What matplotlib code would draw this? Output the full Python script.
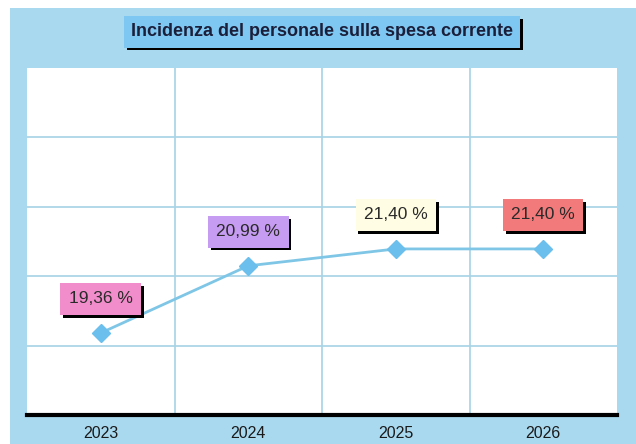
import matplotlib.pyplot as plt
import matplotlib.patheffects as pe
from matplotlib.patches import Rectangle
import numpy as np

plt.rcParams['font.family'] = ['Liberation Sans', 'DejaVu Sans']

years = ['2023', '2024', '2025', '2026']
values = [19.36, 20.99, 21.40, 21.40]
labels = ['19,36 %', '20,99 %', '21,40 %', '21,40 %']
label_colors = ['#f28dcb', '#c69cf2', '#fffde3', '#f37a7a']
title = 'Incidenza del personale sulla spesa corrente'

W, H = 636, 444
fig = plt.figure(figsize=(W / 100, H / 100), dpi=100, facecolor='white')
# light blue panel behind everything
fig.patches.append(Rectangle((10 / W, 0), 1 - 10 / W, 1 - 8 / H,
                             transform=fig.transFigure, facecolor='#a9d9ef',
                             edgecolor='none', zorder=-5))

ax = fig.add_axes([27 / W, (H - 415) / H, 590 / W, (415 - 68) / H])
ax.set_facecolor('white')

x = np.arange(len(years))
ax.set_xlim(-0.5, len(years) - 0.5)
ax.set_ylim(17.37, 25.79)

# grid
for xv in x[:-1] + 0.5:
    ax.axvline(xv, color='#a6d3e6', lw=1.2, zorder=1)
for yv in np.linspace(17.37, 25.79, 6)[1:-1]:
    ax.axhline(yv, color='#a6d3e6', lw=1.2, zorder=1)

ax.plot(x, values, color='#7fc6e6', lw=2, marker='D', markersize=9,
        markerfacecolor='#6bbfec', markeredgecolor='#6bbfec', zorder=3)

for xi, v, lab, col in zip(x, values, labels, label_colors):
    t = ax.annotate(lab, (xi, v), xytext=(0, 34),
                    textcoords='offset pixels', ha='center', va='center',
                    fontsize=12.5, color='#2a2a2a', zorder=5,
                    bbox=dict(boxstyle='square,pad=0.48', facecolor=col,
                              edgecolor='none'))
    t.get_bbox_patch().set_path_effects(
        [pe.SimplePatchShadow(offset=(2, -2), shadow_rgbFace='black', alpha=1),
         pe.Normal()])

ax.set_xticks(x)
ax.set_xticklabels(years, fontsize=11.5, color='#1a1a1a')
ax.set_yticks([])
ax.tick_params(axis='x', length=0, pad=8)
for s in ['top', 'left', 'right']:
    ax.spines[s].set_visible(False)
ax.spines['bottom'].set_linewidth(3)
ax.spines['bottom'].set_color('black')

tt = fig.text(322 / W, 1 - 32 / H, title, ha='center', va='center',
              fontsize=13, fontweight='bold', color='#1b1f3a',
              bbox=dict(boxstyle='square,pad=0.4', facecolor='#7ec7f2',
                        edgecolor='none'))
tt.get_bbox_patch().set_path_effects(
    [pe.SimplePatchShadow(offset=(2, -2), shadow_rgbFace='black', alpha=1),
     pe.Normal()])

fig.savefig('out.png', dpi=100)
